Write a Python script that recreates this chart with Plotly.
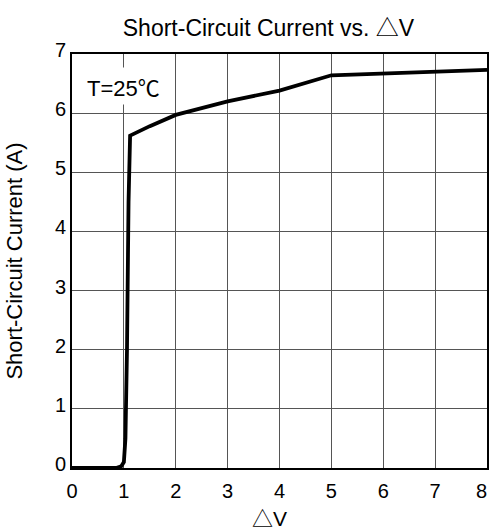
import plotly.graph_objects as go

dv = [0, 0.85, 0.95, 1.0, 1.03, 1.06, 1.09, 1.12, 1.5, 2, 3, 4, 5, 8]
isc = [0, 0, 0.03, 0.1, 0.5, 2.0, 4.5, 5.62, 5.78, 5.97, 6.2, 6.38, 6.64, 6.73]
x_ticks = [0, 1, 2, 3, 4, 5, 6, 7, 8]
x_ticktext = ["0", "1", "2", "3", "4", "5", "6", "7", "8\u00a0\u00a0"]
y_ticks = [0, 1, 2, 3, 4, 5, 6, 7]

font_fam = "Liberation Sans, Arial, Noto Sans CJK SC, sans-serif"
cjk = "<span style='font-family:\"Noto Sans CJK SC\"'>{}</span>"

fig = go.Figure()
fig.add_trace(go.Scatter(x=dv, y=isc, mode="lines",
                         line=dict(color="black", width=3.8), showlegend=False))

fig.update_layout(
    width=489, height=531,
    margin=dict(l=72, r=2, t=54, b=63, autoexpand=False),
    paper_bgcolor="white", plot_bgcolor="white",
    font=dict(family=font_fam, color="black"),
    title=dict(text="Short-Circuit Current vs. " + cjk.format("△") + "V",
               x=0.549, xanchor="center", xref="container",
               y=0.947, yanchor="middle", yref="container",
               font=dict(size=23, family=font_fam)),
    xaxis=dict(range=[0, 8], tickvals=x_ticks, ticktext=x_ticktext,
               showgrid=True, gridcolor="#555555",
               gridwidth=1, zeroline=False, showline=True, linecolor="black",
               linewidth=2, mirror=True, ticks="", tickfont=dict(size=20),
               ticklabelstandoff=4, ticklabeloverflow="allow", automargin=False),
    yaxis=dict(range=[0, 7], tickvals=y_ticks, showgrid=True, gridcolor="#555555",
               gridwidth=1, zeroline=False, showline=True, linecolor="black",
               linewidth=2, mirror=True, ticks="", tickfont=dict(size=20),
               ticklabelshift=-4, automargin=False,
               title=dict(text="Short-Circuit Current (A)", font=dict(size=22),
                          standoff=26)),
    annotations=[
        dict(text="T=25" + cjk.format("℃"), x=0, y=0, xref="paper", yref="paper",
             showarrow=False, font=dict(size=22, family=font_fam)),
        dict(text=cjk.format("△") + "V", x=0.5, y=0, xref="paper", yref="paper",
             showarrow=False, font=dict(size=21, family=font_fam)),
    ],
)

# position annotations in paper coordinates based on pixel targets
plot_l, plot_r, plot_t, plot_b = 72, 487, 54, 468
def px_to_paper(px, py):
    return (px - plot_l) / (plot_r - plot_l), (plot_b - py) / (plot_b - plot_t)

ax0, ay0 = px_to_paper(84, 86)
fig.layout.annotations[0].update(x=ax0, y=ay0, xanchor="left", yanchor="middle",
                                 bgcolor="white", borderpad=2)
ax1, ay1 = px_to_paper(269, 517)
fig.layout.annotations[1].update(x=ax1, y=ay1, xanchor="center", yanchor="middle")

fig.write_html("out.html", config={"displayModeBar": False},
               post_script="document.body.style.margin='0';")
